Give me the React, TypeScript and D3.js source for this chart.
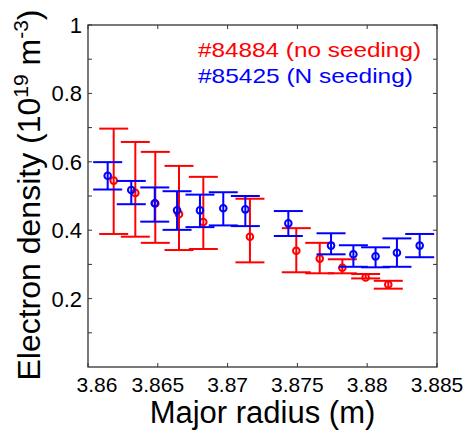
import React from "react";
import * as d3 from "d3";

// Red series: #84884 (no seeding)
const redX = [3.86184, 3.86339, 3.86482, 3.86652, 3.86826, 3.8716, 3.87492, 3.8766, 3.87822, 3.87989, 3.88151];
const redY = [0.545, 0.509, 0.478, 0.447, 0.424, 0.381, 0.34, 0.317, 0.29, 0.262, 0.241];
const redLo = [0.389, 0.381, 0.363, 0.342, 0.345, 0.306, 0.277, 0.274, 0.274, 0.259, 0.229];
const redHi = [0.697, 0.658, 0.629, 0.588, 0.556, 0.492, 0.406, 0.363, 0.315, 0.272, 0.252];

// Blue series: #85425 (N seeding)
const blueX = [3.86141, 3.8631, 3.86478, 3.86638, 3.86802, 3.86969, 3.87127, 3.87435, 3.87741, 3.87901, 3.8806, 3.88213, 3.88376];
const blueY = [0.559, 0.5175, 0.479, 0.458, 0.458, 0.464, 0.461, 0.42, 0.355, 0.3295, 0.3235, 0.334, 0.355];
const blueLo = [0.519, 0.476, 0.425, 0.401, 0.409, 0.414, 0.412, 0.383, 0.3295, 0.293, 0.2915, 0.293, 0.321];
const blueHi = [0.599, 0.544, 0.525, 0.514, 0.504, 0.511, 0.5, 0.456, 0.391, 0.356, 0.35, 0.376, 0.389];

const xTicks = [3.86, 3.865, 3.87, 3.875, 3.88, 3.885];
const xTickLabels = ["3.86", "3.865", "3.87", "3.875", "3.88", "3.885"];
const yTicks = [0.1, 0.2, 0.3, 0.4, 0.5, 0.6, 0.7, 0.8, 0.9, 1];
const yTickLabels = ["", "0.2", "", "0.4", "", "0.6", "", "0.8", "", "1"];

const legendLabels = ["#84884 (no seeding)", "#85425 (N seeding)"];

const RED = "#ff0000";
const BLUE = "#0000ff";
const FONT = "'Liberation Sans', Arial, sans-serif";

export default function App() {
  const L = 88, R = 437, T = 25, B = 367;
  const x = d3.scaleLinear().domain([3.86, 3.885]).range([L, R]);
  const y = d3.scaleLinear().domain([0, 1]).range([B, T]);
  const capHalf = 14.5;
  const tickLen = 4;

  const series = (xs: number[], ys: number[], lo: number[], hi: number[], color: string) => (
    <g stroke={color} strokeWidth={2} fill="none">
      {xs.map((xv, i) => {
        const cx = x(xv);
        return (
          <g key={i}>
            <line x1={cx} x2={cx} y1={y(lo[i])} y2={y(hi[i])} />
            <line x1={cx - capHalf} x2={cx + capHalf} y1={y(hi[i])} y2={y(hi[i])} />
            <line x1={cx - capHalf} x2={cx + capHalf} y1={y(lo[i])} y2={y(lo[i])} />
            <circle cx={cx} cy={y(ys[i])} r={3.3} />
          </g>
        );
      })}
    </g>
  );

  return (
    <svg
      width={470}
      height={436}
      style={{ position: "absolute", left: 0, top: 0, display: "block", background: "#fff" }}
      fontFamily={FONT}
    >
      <rect x={0} y={0} width={470} height={436} fill="#fff" />
      {/* axes box */}
      <rect x={L} y={T} width={R - L} height={B - T} fill="none" stroke="#333" strokeWidth={1.3} />
      {/* x ticks */}
      {xTicks.map((t, i) => (
        <g key={"xt" + i} stroke="#333" strokeWidth={1}>
          <line x1={x(t)} x2={x(t)} y1={B} y2={B - tickLen} />
          <line x1={x(t)} x2={x(t)} y1={T} y2={T + tickLen} />
        </g>
      ))}
      {xTickLabels.map((s, i) => (
        <text
          key={"xl" + i}
          x={x(xTicks[i]) + (i === 0 ? 9 : 0)}
          y={392}
          textAnchor="middle"
          fontSize={21}
          fill="#000"
        >
          {s}
        </text>
      ))}
      {/* y ticks */}
      {yTicks.map((t, i) => (
        <g key={"yt" + i} stroke="#333" strokeWidth={1}>
          <line x1={L} x2={L + tickLen} y1={y(t)} y2={y(t)} />
          <line x1={R} x2={R - tickLen} y1={y(t)} y2={y(t)} />
        </g>
      ))}
      {yTickLabels.map((s, i) =>
        s ? (
          <text
            key={"yl" + i}
            x={82}
            y={y(yTicks[i])}
            dy="0.36em"
            textAnchor="end"
            fontSize={22}
            fill="#000"
          >
            {s}
          </text>
        ) : null
      )}
      {/* data */}
      {series(redX, redY, redLo, redHi, RED)}
      {series(blueX, blueY, blueLo, blueHi, BLUE)}
      {/* legend */}
      <text x={198} y={57} fontSize={21} fill={RED} textLength={223} lengthAdjust="spacingAndGlyphs">
        {legendLabels[0]}
      </text>
      <text x={198} y={83} fontSize={21} fill={BLUE} textLength={215} lengthAdjust="spacingAndGlyphs">
        {legendLabels[1]}
      </text>
      {/* axis labels */}
      <text x={(L + R) / 2} y={423} textAnchor="middle" fontSize={31} fill="#000">
        Major radius (m)
      </text>
      <text
        transform={`translate(40,${(T + B) / 2 - 1}) rotate(-90)`}
        textAnchor="middle"
        fontSize={32}
        fill="#000"
      >
        Electron density (10
        <tspan fontSize={21} dy={-12}>19</tspan>
        <tspan dy={12}> m</tspan>
        <tspan fontSize={21} dy={-12}>-3</tspan>
        <tspan dy={12}>)</tspan>
      </text>
    </svg>
  );
}
